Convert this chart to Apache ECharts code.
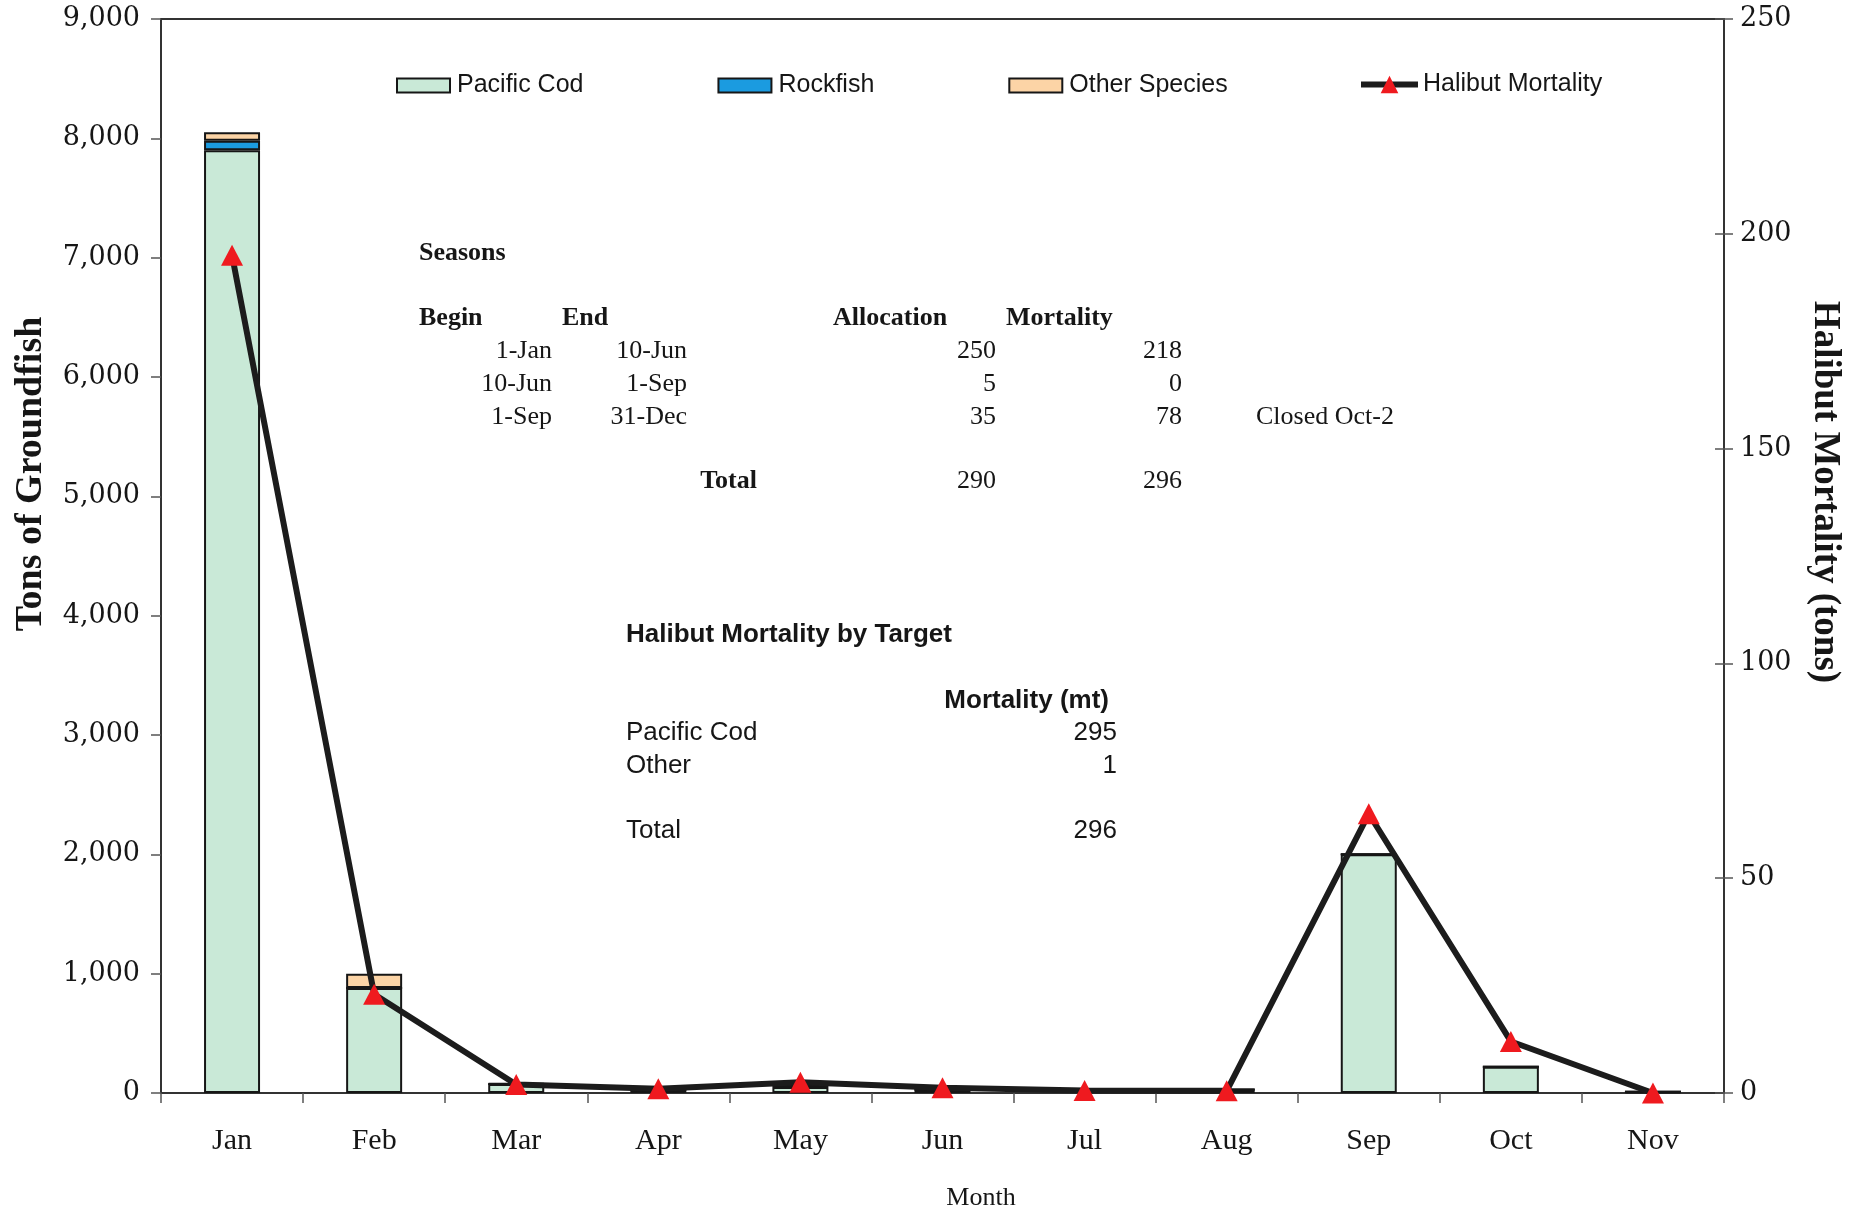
<!DOCTYPE html>
<html>
<head>
<meta charset="utf-8">
<script src="https://cdn.jsdelivr.net/npm/echarts@6/dist/echarts.min.js"></script>
<style>
  html, body { margin: 0; padding: 0; background: #ffffff; }
  #chart { width: 1860px; height: 1212px; }
</style>
</head>
<body>
<div id="chart"></div>
<script>
// ---- data ----
var months = ['Jan', 'Feb', 'Mar', 'Apr', 'May', 'Jun', 'Jul', 'Aug', 'Sep', 'Oct', 'Nov'];
var pacificCod = [7900, 880, 75, 30, 50, 30, 15, 30, 2000, 220, 10];
var rockfish = [80, 0, 0, 0, 25, 0, 0, 0, 0, 0, 0];
var otherSpecies = [70, 120, 5, 0, 25, 0, 0, 0, 0, 0, 0];
var halibutMortality = [195, 23, 2, 1, 2.5, 1.2, 0.6, 0.5, 65, 12, 0];

var leftTicks = [0, 1000, 2000, 3000, 4000, 5000, 6000, 7000, 8000, 9000];
var rightTicks = [0, 50, 100, 150, 200, 250];

// Seasons table
var seasonBegin = ['1-Jan', '10-Jun', '1-Sep'];
var seasonEnd = ['10-Jun', '1-Sep', '31-Dec'];
var seasonAllocation = ['250', '5', '35'];
var seasonMortality = ['218', '0', '78'];
var seasonNote = ['', '', 'Closed Oct-2'];
var seasonTotals = ['290', '296'];

// Halibut mortality by target table
var targetNames = ['Pacific Cod', 'Other'];
var targetMortality = ['295', '1'];
var targetTotal = '296';

// ---- chart ----
var chart = echarts.init(document.getElementById('chart'), null, { renderer: 'canvas' });

var SERIF = '"Liberation Serif", "Times New Roman", serif';
var NUMSERIF = '"DejaVu Serif", serif';
var SANS = '"Liberation Sans", Arial, sans-serif';
var INK = '#161616';

function txt(text, x, y, opts) {
  opts = opts || {};
  return {
    type: 'text', x: x, y: y, rotation: opts.rotation || 0, silent: true,
    style: {
      text: text,
      font: (opts.bold ? 'bold ' : '') + (opts.size || 26) + 'px ' + (opts.family || SERIF),
      fill: INK,
      align: opts.align || 'left',
      verticalAlign: 'middle'
    }
  };
}

var graphics = [];
// Seasons table
graphics.push(txt('Seasons', 419, 253, { bold: true }));
graphics.push(txt('Begin', 419, 318, { bold: true }));
graphics.push(txt('End', 562, 318, { bold: true }));
graphics.push(txt('Allocation', 833, 318, { bold: true }));
graphics.push(txt('Mortality', 1006, 318, { bold: true }));
var rowY = [351, 384, 417];
for (var i = 0; i < seasonBegin.length; i++) {
  graphics.push(txt(seasonBegin[i], 552, rowY[i], { align: 'right' }));
  graphics.push(txt(seasonEnd[i], 687, rowY[i], { align: 'right' }));
  graphics.push(txt(seasonAllocation[i], 996, rowY[i], { align: 'right' }));
  graphics.push(txt(seasonMortality[i], 1182, rowY[i], { align: 'right' }));
  if (seasonNote[i]) graphics.push(txt(seasonNote[i], 1256, rowY[i]));
}
graphics.push(txt('Total', 757, 481, { bold: true, align: 'right' }));
graphics.push(txt(seasonTotals[0], 996, 481, { align: 'right' }));
graphics.push(txt(seasonTotals[1], 1182, 481, { align: 'right' }));

// Target table
graphics.push(txt('Halibut Mortality by Target', 626, 635, { bold: true, family: SANS }));
graphics.push(txt('Mortality (mt)', 1109, 701, { bold: true, family: SANS, align: 'right' }));
var tY = [733, 766];
for (var j = 0; j < targetNames.length; j++) {
  graphics.push(txt(targetNames[j], 626, tY[j], { family: SANS }));
  graphics.push(txt(targetMortality[j], 1117, tY[j], { family: SANS, align: 'right' }));
}
graphics.push(txt('Total', 626, 831, { family: SANS }));
graphics.push(txt(targetTotal, 1117, 831, { family: SANS, align: 'right' }));

// axis titles
graphics.push(txt('Month', 981, 1198, { size: 26, align: 'center' }));
graphics.push(txt('Tons of Groundfish', 31, 474, { size: 38, bold: true, align: 'center', rotation: Math.PI / 2 }));
graphics.push(txt('Halibut Mortality (tons)', 1825, 492, { size: 37, bold: true, align: 'center', rotation: -Math.PI / 2 }));

function barStyle(color) {
  return { color: color, borderColor: INK, borderWidth: 2 };
}

var legendText = { fontFamily: SANS, fontSize: 25, color: INK, padding: [0, 0, 0, 2] };

var option = {
  backgroundColor: '#ffffff',
  animation: false,
  grid: {
    left: 161, right: 136, top: 19, bottom: 119,
    show: true, borderColor: '#333', borderWidth: 2, backgroundColor: 'transparent'
  },
  legend: [
    {
      left: 391, top: 68,
      itemWidth: 53, itemHeight: 14, itemGap: 134,
      textStyle: legendText,
      data: [
        { name: 'Pacific Cod', icon: 'rect' },
        { name: 'Rockfish', icon: 'rect' },
        { name: 'Other Species', icon: 'rect' }
      ]
    },
    {
      left: 1353, top: 67,
      itemWidth: 57, itemHeight: 22, itemGap: 10,
      textStyle: { fontFamily: SANS, fontSize: 25, color: INK, padding: 0 },
      data: [
        { name: 'Halibut Mortality', lineStyle: { width: 6, color: '#1c1c1c' }, itemStyle: { color: '#ef1a1f' } }
      ]
    }
  ],
  xAxis: {
    type: 'category',
    data: months,
    boundaryGap: true,
    axisLine: { show: true, lineStyle: { color: '#333', width: 2 } },
    axisTick: { show: true, inside: false, length: 10, interval: 0, alignWithLabel: false, lineStyle: { color: '#555', width: 1.5 } },
    axisLabel: { margin: 33, fontFamily: SERIF, fontSize: 30, color: INK, interval: 0 },
    splitLine: { show: false }
  },
  yAxis: [
    {
      type: 'value', position: 'left',
      min: leftTicks[0], max: leftTicks[leftTicks.length - 1], interval: leftTicks[1] - leftTicks[0],
      axisLine: { show: true, lineStyle: { color: '#333', width: 2 } },
      axisTick: { show: true, inside: false, length: 10, lineStyle: { color: '#555', width: 1.5 } },
      axisLabel: {
        margin: 21, fontFamily: NUMSERIF, fontSize: 27, color: INK,
        formatter: function (v) { return v.toLocaleString('en-US'); }
      },
      splitLine: { show: false }
    },
    {
      type: 'value', position: 'right',
      min: rightTicks[0], max: rightTicks[rightTicks.length - 1], interval: rightTicks[1] - rightTicks[0],
      axisLine: { show: true, lineStyle: { color: '#333', width: 2 } },
      axisTick: { show: true, inside: false, length: 9, lineStyle: { color: '#555', width: 1.5 } },
      axisLabel: { margin: 16, fontFamily: NUMSERIF, fontSize: 27, color: INK },
      splitLine: { show: false }
    },
    {
      type: 'value', position: 'right',
      min: rightTicks[0], max: rightTicks[rightTicks.length - 1], interval: rightTicks[1] - rightTicks[0],
      axisLine: { show: false },
      axisTick: { show: true, inside: true, length: 9, lineStyle: { color: '#555', width: 1.5 } },
      axisLabel: { show: false },
      splitLine: { show: false }
    }
  ],
  series: [
    { name: 'Pacific Cod', type: 'bar', stack: 'catch', barWidth: 56, data: pacificCod, itemStyle: barStyle('#c9e9d7') },
    { name: 'Rockfish', type: 'bar', stack: 'catch', barWidth: 56, data: rockfish, itemStyle: barStyle('#1b9be0') },
    { name: 'Other Species', type: 'bar', stack: 'catch', barWidth: 56, data: otherSpecies, itemStyle: barStyle('#fcd4a6') },
    {
      name: 'Halibut Mortality', type: 'line', yAxisIndex: 1, data: halibutMortality,
      z: 5,
      symbol: 'triangle', symbolSize: [22, 21], showAllSymbol: true,
      lineStyle: { color: '#1c1c1c', width: 6 },
      itemStyle: { color: '#ef1a1f', borderWidth: 0 }
    }
  ],
  graphic: graphics
};

chart.setOption(option);
</script>
</body>
</html>
